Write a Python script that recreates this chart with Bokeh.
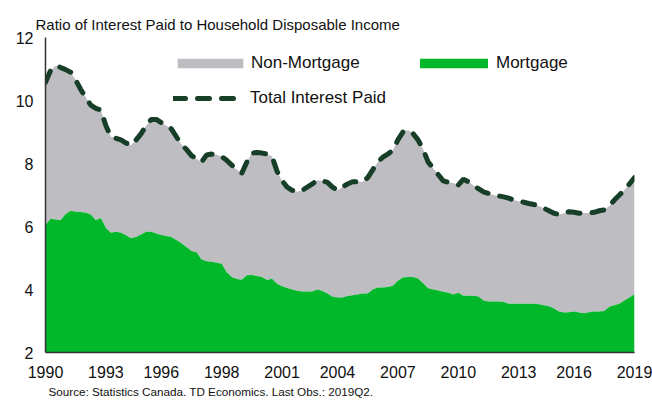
import numpy as np
from bokeh.plotting import figure
from bokeh.models import (ColumnDataSource, Legend, LegendItem, FixedTicker, Title, Range1d)
from bokeh.embed import file_html
from bokeh.resources import INLINE

# Quarterly data 1990Q1 .. 2019Q2 (ratio, %)
mortgage = [
    6.05, 6.25, 6.22, 6.20, 6.40, 6.50, 6.47, 6.46, 6.44, 6.38,
    6.20, 6.27, 5.95, 5.80, 5.83, 5.80, 5.72, 5.63, 5.67, 5.75,
    5.83, 5.83, 5.78, 5.73, 5.70, 5.67, 5.57, 5.47, 5.35, 5.22,
    5.18, 4.95, 4.90, 4.88, 4.85, 4.82, 4.55, 4.40, 4.33, 4.31,
    4.45, 4.46, 4.43, 4.40, 4.30, 4.34, 4.18, 4.10, 4.05, 4.00,
    3.96, 3.94, 3.94, 3.94, 4.00, 3.95, 3.87, 3.77, 3.75, 3.75,
    3.79, 3.82, 3.84, 3.87, 3.87, 4.00, 4.06, 4.06, 4.08, 4.12,
    4.28, 4.38, 4.40, 4.40, 4.35, 4.20, 4.04, 4.00, 3.97, 3.93,
    3.90, 3.84, 3.90, 3.80, 3.80, 3.80, 3.78, 3.65, 3.62, 3.62,
    3.62, 3.60, 3.55, 3.55, 3.55, 3.55, 3.55, 3.55, 3.53, 3.50,
    3.47, 3.40, 3.30, 3.27, 3.28, 3.30, 3.27, 3.25, 3.28, 3.30,
    3.30, 3.32, 3.45, 3.50, 3.55, 3.65, 3.75, 3.85,
]
total = [
    10.58, 10.95, 11.10, 11.05, 10.98, 10.90, 10.65, 10.35, 10.10, 9.85,
    9.75, 9.70, 9.20, 8.85, 8.80, 8.75, 8.65, 8.58, 8.75, 8.95,
    9.20, 9.40, 9.40, 9.30, 9.20, 9.10, 8.85, 8.60, 8.45, 8.25,
    8.15, 8.05, 8.27, 8.30, 8.28, 8.22, 8.10, 7.95, 7.80, 7.70,
    8.05, 8.33, 8.35, 8.33, 8.30, 8.22, 7.75, 7.45, 7.25, 7.15,
    7.10, 7.15, 7.25, 7.35, 7.47, 7.45, 7.40, 7.25, 7.15, 7.25,
    7.35, 7.42, 7.42, 7.42, 7.55, 7.80, 8.05, 8.20, 8.30, 8.42,
    8.75, 9.00, 9.06, 8.95, 8.75, 8.45, 8.05, 7.85, 7.65, 7.45,
    7.40, 7.38, 7.32, 7.50, 7.42, 7.30, 7.20, 7.10, 7.05, 7.00,
    6.97, 6.94, 6.90, 6.84, 6.80, 6.77, 6.73, 6.70, 6.65, 6.58,
    6.50, 6.42, 6.38, 6.42, 6.47, 6.45, 6.42, 6.43, 6.43, 6.45,
    6.50, 6.53, 6.65, 6.84, 7.00, 7.16, 7.35, 7.55,
]
tick_labels = ["1990", "1993", "1996", "1998", "2001", "2004",
               "2007", "2010", "2013", "2016", "2019"]
y_ticks = [2, 4, 6, 8, 10, 12]

GREY = "#bebdc2"
GREEN = "#00b82a"
DARK = "#173f27"
FONT = "Liberation Sans"

n = len(total)
q = list(range(n))
src = ColumnDataSource(dict(q=q, mortgage=mortgage, total=total))

p = figure(width=652, height=402, output_backend="svg", toolbar_location=None,
           x_range=Range1d(0, n - 1), y_range=Range1d(2, 12))
p.min_border_left = 45
p.min_border_right = 18
p.min_border_top = 37
p.min_border_bottom = 50
p.outline_line_color = None
p.xgrid.visible = False
p.ygrid.visible = False
p.background_fill_color = "white"

r_non = p.varea(x="q", y1="mortgage", y2="total", source=src, fill_color=GREY)
r_mort = p.varea(x="q", y1=0, y2="mortgage", source=src, fill_color=GREEN)
r_tot = p.line(x="q", y="total", source=src, line_color=DARK, line_width=5,
               line_dash="12 12", line_cap="round")

tick_pos = [int(round(v)) for v in np.linspace(0, n - 1, len(tick_labels))]
p.xaxis.ticker = FixedTicker(ticks=tick_pos)
p.xaxis.major_label_overrides = {t: l for t, l in zip(tick_pos, tick_labels)}
p.yaxis.ticker = FixedTicker(ticks=y_ticks)

for ax in (p.xaxis[0], p.yaxis[0]):
    ax.major_tick_line_color = None
    ax.minor_tick_line_color = None
    ax.major_tick_out = 0
    ax.major_tick_in = 0
    ax.major_label_text_font = FONT
    ax.major_label_text_font_size = "16px"
    ax.major_label_text_color = "#111111"
    ax.axis_line_color = "#333333"
    ax.axis_line_width = 1.5
p.yaxis.major_label_standoff = 12
p.xaxis.major_label_standoff = 13


def make_legend(renderer, label, loc, gw, gh, standoff):
    leg = Legend(items=[LegendItem(label=label, renderers=[renderer])],
                 location=loc, glyph_width=gw, glyph_height=gh,
                 label_height=gh, label_standoff=standoff, padding=0, margin=0,
                 spacing=0, border_line_color=None, background_fill_alpha=0,
                 label_text_font=FONT, label_text_font_size="17px",
                 label_text_color="#111111")
    p.add_layout(leg, "center")


make_legend(r_non, "Non-Mortgage", (124, 279), 82, 12, 0)
make_legend(r_mort, "Mortgage", (366, 279), 85, 12, 0)
make_legend(r_tot, "Total Interest Paid", (128, 244), 66, 12, 11)

p.title = Title(text="Ratio of Interest Paid to Household Disposable Income",
                text_font=FONT, text_font_size="15px", text_font_style="normal",
                text_color="#111111", align="left", offset=-10, standoff=10)
p.add_layout(Title(text="Source: Statistics Canada. TD Economics. Last Obs.: 2019Q2.",
                   text_font=FONT, text_font_size="11.7px", text_font_style="normal",
                   text_color="#111111", align="left", offset=3, standoff=5),
             "below")

open("out.html", "w").write(file_html(p, INLINE))
